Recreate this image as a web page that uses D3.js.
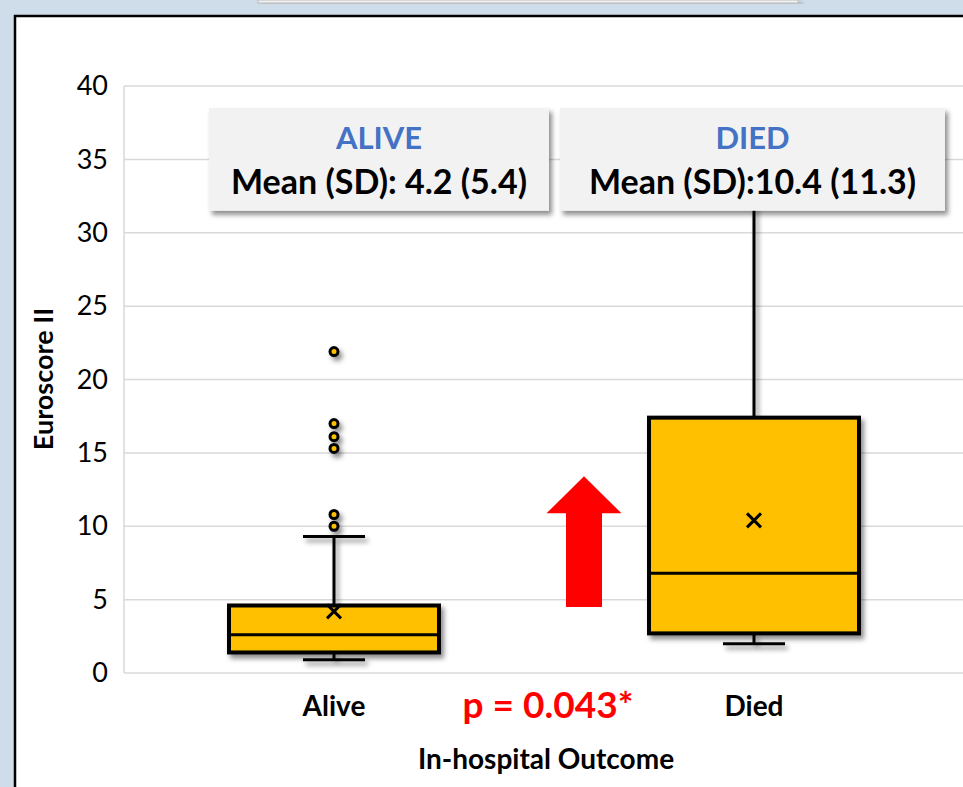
<!DOCTYPE html>
<html>
<head>
<meta charset="utf-8">
<script src="https://cdn.jsdelivr.net/npm/d3@7/dist/d3.min.js"></script>
<style>
  body { margin: 0; overflow: hidden; background: #fff; }
  text { font-family: Lato, "Open Sans", sans-serif; }
</style>
</head>
<body>
<svg id="chart" width="963" height="787"></svg>
<script>
// data
var groups = ["Alive", "Died"];
var q1 = [1.4, 2.7];
var medians = [2.6, 6.8];
var q3 = [4.6, 17.4];
var whiskerLow = [0.9, 2.0];
var whiskerHigh = [9.3, 36];
var means = [4.2, 10.4];
var outliers = [[21.9, 17.0, 16.1, 15.3, 10.8, 10.0], []];
var yTicks = [0, 5, 10, 15, 20, 25, 30, 35, 40];
var summaryTitles = ["ALIVE", "DIED"];
var summaryTexts = ["Mean (SD): 4.2 (5.4)", "Mean (SD):10.4 (11.3)"];
var pLabel = "p = 0.043*";
var arrowRange = [4.5, 13.4];

var svg = d3.select("#chart"),
  margin = { top: 86, left: 124 },
  innerWidth = 840,
  innerHeight = 587;

var defs = svg.append("defs");
var shadow = defs.append("filter").attr("id", "shadow")
  .attr("x", "-20%").attr("y", "-20%").attr("width", "150%").attr("height", "150%");
shadow.append("feDropShadow").attr("dx", 3).attr("dy", 4).attr("stdDeviation", 2.5)
  .attr("flood-color", "#000").attr("flood-opacity", 0.45);

// slide background + frame (left and top edges only are visible)
svg.append("rect").attr("width", 963).attr("height", 787).attr("fill", "#cfdcea");
svg.append("rect").attr("x", 258).attr("y", 0).attr("width", 540).attr("height", 3)
  .attr("fill", "#f2f2f2").attr("stroke", "#bbb").attr("filter", "url(#shadow)");
svg.append("rect").attr("x", 14).attr("y", 15).attr("width", 949).attr("height", 772)
  .attr("fill", "#fff");
svg.append("path").attr("d", "M15,787V16H963")
  .attr("fill", "none").attr("stroke", "#000").attr("stroke-width", 2.5);

var x = d3.scaleBand().domain(groups).range([margin.left, margin.left + innerWidth]);
var y = d3.scaleLinear().domain([0, 40]).range([margin.top + innerHeight, margin.top]);
var boxW = x.bandwidth() / 2;
var capW = 62;

// gridlines + plot border
svg.append("g").selectAll("line").data(yTicks).join("line")
  .attr("x1", margin.left).attr("x2", 963)
  .attr("y1", function (d) { return y(d); }).attr("y2", function (d) { return y(d); })
  .attr("stroke", "#d9d9d9").attr("stroke-width", 1.5);
svg.append("line").attr("x1", margin.left).attr("x2", margin.left)
  .attr("y1", y(40)).attr("y2", y(0)).attr("stroke", "#d9d9d9").attr("stroke-width", 1.5);

// y axis labels
var yAxis = svg.append("g")
  .attr("transform", "translate(" + (margin.left - 14) + ",0)")
  .call(d3.axisLeft(y).tickValues(yTicks).tickSize(0).tickPadding(2));
yAxis.select(".domain").remove();
yAxis.selectAll("text").attr("font-size", 27).attr("fill", "#000")
  .style("font-family", "Lato, sans-serif");

// x axis labels
var xAxis = svg.append("g")
  .attr("transform", "translate(0,716)")
  .call(d3.axisBottom(x).tickSize(0));
xAxis.select(".domain").remove();
xAxis.selectAll("text").attr("y", 0).attr("dy", 0)
  .attr("font-size", 28).attr("font-weight", "bold").attr("fill", "#000")
  .style("font-family", "Lato, sans-serif");

svg.append("text").attr("transform", "translate(53,379) rotate(-90)")
  .attr("text-anchor", "middle").attr("font-size", 27).attr("font-weight", "bold")
  .text("Euroscore II");
svg.append("text").attr("x", 546).attr("y", 769)
  .attr("text-anchor", "middle").attr("font-size", 28).attr("font-weight", "bold")
  .text("In-hospital Outcome");

// boxes
var idx = d3.range(groups.length);
var boxes = svg.append("g").attr("filter", "url(#shadow)");
idx.forEach(function (i) {
  var cx = x(groups[i]) + x.bandwidth() / 2;
  var g = boxes.append("g");
  // whiskers
  g.append("line").attr("x1", cx).attr("x2", cx)
    .attr("y1", y(q3[i])).attr("y2", y(whiskerHigh[i]))
    .attr("stroke", "#000").attr("stroke-width", 3);
  g.append("line").attr("x1", cx).attr("x2", cx)
    .attr("y1", y(q1[i])).attr("y2", y(whiskerLow[i]))
    .attr("stroke", "#000").attr("stroke-width", 3);
  [whiskerHigh[i], whiskerLow[i]].forEach(function (v) {
    g.append("line").attr("x1", cx - capW / 2).attr("x2", cx + capW / 2)
      .attr("y1", y(v)).attr("y2", y(v))
      .attr("stroke", "#000").attr("stroke-width", 3);
  });
  g.append("rect").attr("x", cx - boxW / 2).attr("width", boxW)
    .attr("y", y(q3[i])).attr("height", y(q1[i]) - y(q3[i]))
    .attr("fill", "#ffc000").attr("stroke", "#000").attr("stroke-width", 4);
  g.append("line").attr("x1", cx - boxW / 2).attr("x2", cx + boxW / 2)
    .attr("y1", y(medians[i])).attr("y2", y(medians[i]))
    .attr("stroke", "#000").attr("stroke-width", 3);
  // mean marker
  var my = y(means[i]), s = 7;
  g.append("path")
    .attr("d", "M" + (cx - s) + "," + (my - s) + "L" + (cx + s) + "," + (my + s) +
      "M" + (cx - s) + "," + (my + s) + "L" + (cx + s) + "," + (my - s))
    .attr("stroke", "#000").attr("stroke-width", 3);
  g.selectAll("circle").data(outliers[i]).join("circle")
    .attr("cx", cx).attr("cy", function (d) { return y(d); }).attr("r", 4)
    .attr("fill", "#ffc000").attr("stroke", "#000").attr("stroke-width", 3);
});

// summary boxes
var summaryBoxes = [[209, 549], [560, 945]];
idx.forEach(function (i) {
  var b = summaryBoxes[i], cx = (b[0] + b[1]) / 2;
  svg.append("rect").attr("x", b[0]).attr("width", b[1] - b[0])
    .attr("y", y(38.5)).attr("height", y(31.5) - y(38.5))
    .attr("fill", "#f2f2f2").attr("filter", "url(#shadow)");
  svg.append("text").attr("x", cx).attr("y", 149).attr("text-anchor", "middle")
    .attr("font-size", 31).attr("font-weight", "bold").attr("fill", "#4472c4")
    .text(summaryTitles[i]);
  svg.append("text").attr("x", cx).attr("y", 194).attr("text-anchor", "middle")
    .attr("font-size", 34).attr("font-weight", "bold").attr("fill", "#000")
    .text(summaryTexts[i]);
});

// red arrow
var ax = 584, bodyW = 36, headW = 75, headH = 37;
var yb = y(arrowRange[0]), yt = y(arrowRange[1]);
svg.append("path")
  .attr("d", "M" + (ax - bodyW / 2) + "," + yb +
    "L" + (ax - bodyW / 2) + "," + (yt + headH) +
    "L" + (ax - headW / 2) + "," + (yt + headH) +
    "L" + ax + "," + yt +
    "L" + (ax + headW / 2) + "," + (yt + headH) +
    "L" + (ax + bodyW / 2) + "," + (yt + headH) +
    "L" + (ax + bodyW / 2) + "," + yb + "Z")
  .attr("fill", "#ff0000");

svg.append("text").attr("x", 548).attr("y", 718).attr("text-anchor", "middle")
  .attr("font-size", 37).attr("font-weight", "bold").attr("fill", "#ff0000")
  .text(pLabel);
</script>
</body>
</html>
